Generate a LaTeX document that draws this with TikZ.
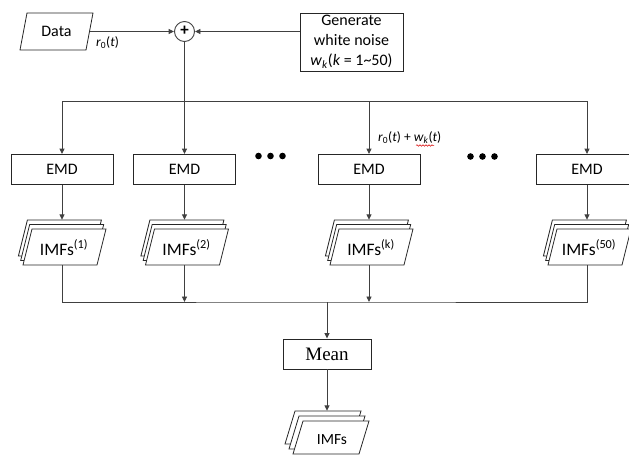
\documentclass[tikz,border=0pt]{standalone}
\usepackage{fontspec}
\setmainfont{Carlito}
\newfontfamily\meanfont{Liberation Serif}
\usetikzlibrary{arrows.meta,decorations.pathmorphing}
\newcommand\imfstack[4]{%
 \begin{scope}[shift={(#2,#3)}]
  \foreach \dx/\dy in {-2.1/-4.5,0.2/0,2.5/4.5}
    \draw[stk] ({\dx-32.5},{\dy-18}) -- ({\dx+41.5},{\dy-18}) -- ({\dx+32.5},{\dy+18}) -- ({\dx-41.5},{\dy+18}) -- cycle;
  \node[inner sep=0pt, minimum width=80pt, minimum height=45pt] (#1) at (0,0) {};
  \node[font=\fontsize{17.5}{20}\selectfont, inner sep=0pt] (#1t) at (2,5) {IMFs\textsuperscript{#4}};
 \end{scope}}
\begin{document}
\begin{tikzpicture}[x=1pt,y=-1pt,
  box/.style={draw=black!85, line width=0.9pt, fill=white, minimum width=102pt, minimum height=30pt, inner sep=0pt, font=\fontsize{16}{19}\selectfont},
  conn/.style={draw=black!75, line width=0.9pt},
  arr/.style={conn, -{Triangle[length=5.5pt,width=5pt]}},
  stk/.style={draw=black!85, fill=white, line width=0.8pt},
  dotc/.style={circle, fill=black, inner sep=0pt, minimum size=6.6pt},
  lab/.style={font=\fontsize{13.5}{15}\selectfont, inner sep=0pt}
]
\useasboundingbox (0,0) rectangle (629,456);
\clip (0,0) rectangle (629,456);

% Data
\draw[stk] (20,50) -- (27,13) -- (93,13) -- (86,50) -- cycle;
\node[inner sep=0pt, minimum width=67pt, minimum height=37pt, font=\fontsize{16}{19}\selectfont] (data) at (56.5,31.5) {Data};

% plus
\node[circle, draw=black!75, line width=0.9pt, minimum size=20pt, inner sep=0pt, font=\fontsize{17}{17}\selectfont\bfseries] (plus) at (184.5,31.5) {\raisebox{0.5pt}{+}};

% generate
\node[box, minimum width=103pt, minimum height=58pt, align=center, font=\fontsize{16}{20}\selectfont] (gen) at (351.5,42) {Generate\\white noise\\\textit{w}\textsubscript{\textit{k}}(\textit{k} = 1\textasciitilde50)};

\draw[arr] (data.east) -- (plus.west);
\draw[arr] (gen.west |- plus.east) -- (plus.east);
\node[lab, anchor=west] (lab0) at (96,43) {\textit{r}\textsubscript{0}(\textit{t})};

% EMD boxes
\node[box] (emd1) at (62,169.5) {EMD};
\node[box] (emd2) at (184.5,169.5) {EMD};
\node[box] (emd3) at (369,169.5) {EMD};
\node[box] (emd4) at (587,169.5) {EMD};

\coordinate (bus) at (184.5,101);
\draw[arr] (plus.south) -- (emd2.north);
\draw[arr] (bus) -| (emd1.north);
\draw[arr] (bus) -| (emd3.north);
\draw[arr] (bus) -| (emd4.north);
\node[lab, anchor=west] (lab1) at (378,137.5) {\textit{r}\textsubscript{0}(\textit{t}) + \textit{w}\textsubscript{\textit{k}}(\textit{t})};
\draw[red!85!black, line width=0.5pt, decorate, decoration={snake, amplitude=0.8pt, segment length=3pt}] (416,145.5) -- (434,145.5);

% dots
\node[dotc] (d1) at (258.5,156) {};
\node[dotc] (d2) at (270.5,156) {};
\node[dotc] (d3) at (282.5,156) {};
\node[dotc] (d4) at (470.5,156.5) {};
\node[dotc] (d5) at (482.5,156.5) {};
\node[dotc] (d6) at (494.5,156.5) {};

% stacks
\imfstack{s1}{62}{242.5}{(1)}
\imfstack{s2}{184.5}{242.5}{(2)}
\imfstack{s3}{369}{242.5}{(k)}
\imfstack{s4}{587}{242.5}{(50)}

\draw[arr] (emd1.south) -- (s1.north);
\draw[arr] (emd2.south) -- (s2.north);
\draw[arr] (emd3.south) -- (s3.north);
\draw[arr] (emd4.south) -- (s4.north);

% Mean
\node[box, minimum width=88pt, minimum height=30pt, font=\meanfont\fontsize{19}{22}\selectfont] (mean) at (327,354) {Mean};

\coordinate (mbus) at (327,302);
\draw[conn] (s1.south) |- (mbus) -| (s4.south);
\draw[arr] (s2.south) -- (s2.south |- mbus);
\draw[arr] (s3.south) -- (s3.south |- mbus);
\draw[arr] (mbus) -- (mean.north);

% final stack
\begin{scope}[shift={(331,437.5)}]
  \foreach \dx/\dy in {-8/-10,-4/-5,0/0}
    \draw[stk] ({\dx-28},{\dy-16.5}) -- ({\dx+38},{\dy-16.5}) -- ({\dx+28},{\dy+16.5}) -- ({\dx-38},{\dy+16.5}) -- cycle;
  \node[font=\fontsize{15.5}{19}\selectfont, inner sep=0pt] (fint) at (1,2.5) {IMFs};
\end{scope}
\node[inner sep=0pt, minimum width=80pt, minimum height=42pt] (fin) at (327,432) {};
\draw[arr] (mean.south) -- (fin.north);
\end{tikzpicture}
\end{document}
